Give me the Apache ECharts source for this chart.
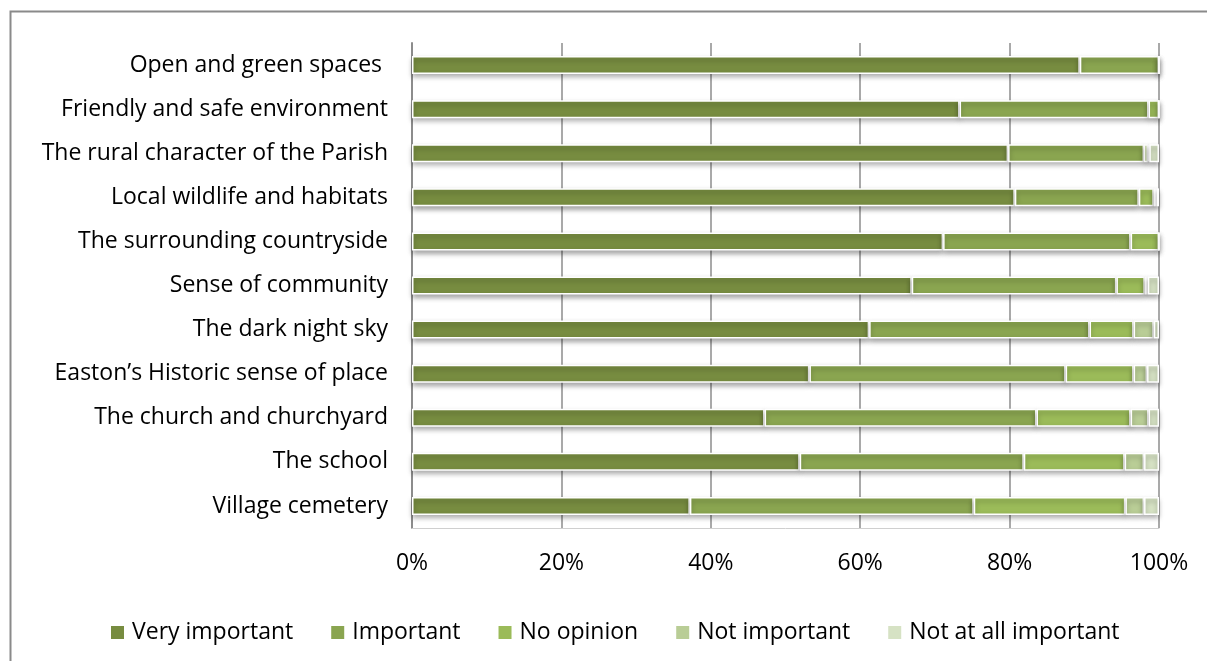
<!DOCTYPE html>
<html>
<head>
<meta charset="utf-8">
<title>What matters most about the Parish</title>
<script src="https://cdn.jsdelivr.net/npm/echarts@6/dist/echarts.min.js"></script>
<style>
  html, body { margin: 0; padding: 0; background: #ffffff; }
  #chart { width: 1207px; height: 661px; }
</style>
</head>
<body>
<div id="chart"></div>
<script>
// Survey statements, listed top to bottom
const categories = [
  'Open and green spaces ',
  'Friendly and safe environment',
  'The rural character of the Parish',
  'Local wildlife and habitats',
  'The surrounding countryside',
  'Sense of community',
  'The dark night sky',
  'Easton\u2019s Historic sense of place',
  'The church and churchyard',
  'The school',
  'Village cemetery'
];

// Share of responses (%) per answer, same order as categories
const veryImportant    = [89.4, 73.3, 79.8, 80.7, 71.1, 66.9, 61.2, 53.2, 47.2, 51.9, 37.2];
const important        = [10.6, 25.3, 18.2, 16.6, 25.1, 27.4, 29.5, 34.3, 36.4, 30.0, 38.0];
const noOpinion        = [0.0,  1.4,  0.5,  2.0,  3.8,  3.8,  5.9,  9.1,  12.6, 13.5, 20.3];
const notImportant     = [0.0,  0.0,  0.2,  0.4,  0.0,  0.4,  2.7,  1.8,  2.4,  2.6,  2.5];
const notAtAllImportant= [0.0,  0.0,  1.3,  0.3,  0.0,  1.5,  0.7,  1.6,  1.4,  2.0,  2.0];

const seriesNames = ['Very important', 'Important', 'No opinion', 'Not important', 'Not at all important'];
const seriesData  = [veryImportant, important, noOpinion, notImportant, notAtAllImportant];
const seriesColors = ['#778c40', '#8aa550', '#9bbb59', '#b9cd96', '#d6e2c4'];

// x-axis ticks every 20%
const tickStep = 20;

const FONT = 'Open Sans';
const FONT_SIZE = 23;

const chart = echarts.init(document.getElementById('chart'), null, { renderer: 'canvas' });

chart.setOption({
  backgroundColor: '#ffffff',
  animation: false,
  textStyle: { fontFamily: FONT },
  graphic: [{
    type: 'rect',
    left: 8, top: 9,
    shape: { width: 1400, height: 900 },
    style: { fill: 'none', stroke: '#8a8a8a', lineWidth: 2 },
    silent: true,
    z: 0
  }],
  grid: { left: 412, right: 48, top: 43, bottom: 133, containLabel: false },
  legend: {
    left: 106,
    top: 616,
    icon: 'rect',
    itemWidth: 13,
    itemHeight: 13,
    itemGap: 38,
    selectedMode: false,
    data: seriesNames,
    itemStyle: { borderWidth: 0, shadowBlur: 0, shadowOffsetY: 0, shadowColor: 'transparent' },
    textStyle: { fontFamily: FONT, fontSize: FONT_SIZE, color: '#000000', padding: [0, 0, 0, 3] }
  },
  xAxis: {
    type: 'value',
    min: 0,
    max: 100,
    interval: tickStep,
    axisLine: { show: true, lineStyle: { color: '#cfcfcf', width: 1 } },
    axisTick: { show: false },
    splitLine: { show: true, lineStyle: { color: '#8c8c8c', width: 1.5 } },
    axisLabel: {
      formatter: '{value}%',
      fontFamily: FONT,
      fontSize: FONT_SIZE,
      color: '#000000',
      margin: 24
    }
  },
  yAxis: {
    type: 'category',
    inverse: true,
    data: categories,
    axisLine: { show: true, lineStyle: { color: '#8c8c8c', width: 2 } },
    axisTick: { show: false },
    splitLine: { show: false },
    axisLabel: {
      fontFamily: FONT,
      fontSize: FONT_SIZE,
      color: '#000000',
      margin: 24
    }
  },
  series: seriesNames.map((name, i) => ({
    name: name,
    type: 'bar',
    stack: 'total',
    barWidth: 18,
    data: seriesData[i],
    itemStyle: {
      color: seriesColors[i],
      borderColor: '#ffffff',
      borderWidth: 1.5,
      shadowColor: 'rgba(0,0,0,0.35)',
      shadowBlur: 5,
      shadowOffsetY: 3
    },
    emphasis: { disabled: true }
  }))
});
</script>
</body>
</html>
